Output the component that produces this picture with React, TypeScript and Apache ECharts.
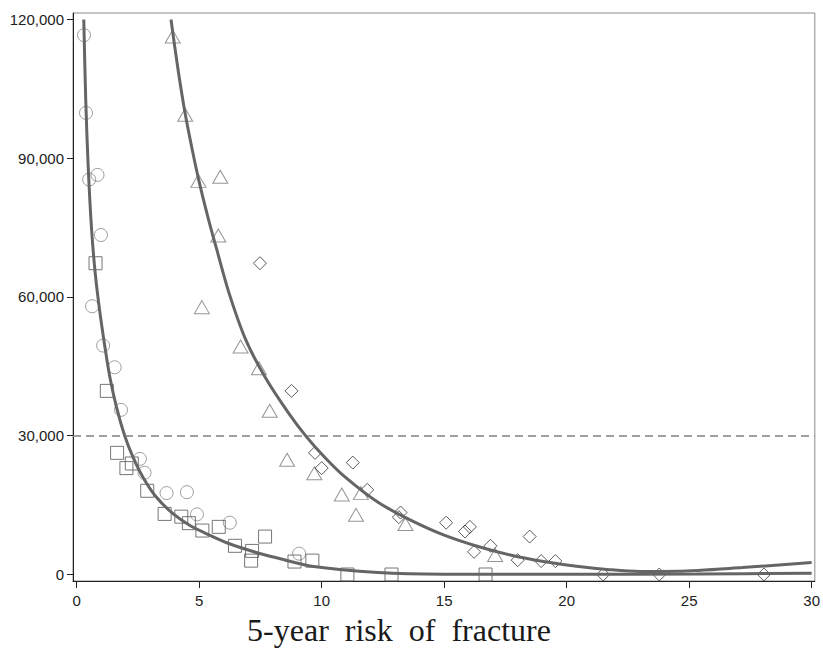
import React, { useEffect, useRef } from "react";
import * as echarts from "echarts";

const xTicks = [0, 5, 10, 15, 20, 25, 30];
const yTicks = [0, 30000, 60000, 90000, 120000];
const xLabel = "5-year\u00a0 risk\u00a0 of\u00a0 fracture";
const threshold = 30000;

const circles = [
  [0.3, 116600], [0.38, 99800], [0.51, 85400], [0.85, 86400], [0.99, 73400],
  [0.63, 58000], [1.08, 49500], [1.55, 44800], [1.81, 35600], [2.58, 25000],
  [2.77, 22000], [3.67, 17600], [4.5, 17800], [4.91, 13000], [6.25, 11200],
  [9.08, 4500],
];

const squares = [
  [0.77, 67300], [1.23, 39700], [1.65, 26300], [2.25, 24000], [2.03, 23000],
  [2.88, 18100], [3.59, 13100], [4.27, 12500], [4.58, 11100], [5.13, 9500],
  [5.8, 10300], [6.46, 6200], [7.16, 5100], [7.12, 3000], [7.69, 8200],
  [8.89, 2800], [9.62, 3000], [11.05, 0], [12.85, 0], [16.69, 0],
];

const triangles = [
  [3.92, 116300], [4.43, 99400], [4.97, 85100], [5.86, 86000], [5.11, 57800],
  [5.78, 73300], [6.69, 49300], [7.44, 44600], [7.88, 35400], [8.59, 24800],
  [9.7, 21900], [10.82, 17300], [11.6, 17600], [11.4, 12900], [13.42, 10900],
  [17.08, 4200],
];

const diamonds = [
  [7.48, 67300], [8.77, 39700], [9.73, 26300], [10.0, 23000], [11.27, 24200],
  [11.86, 18300], [13.22, 13400], [13.15, 12400], [15.08, 11200], [16.05, 10300],
  [15.85, 9300], [16.22, 4900], [16.89, 6200], [18.49, 8200], [18.0, 3100],
  [18.96, 2900], [19.54, 2900], [21.49, 0], [23.78, 0], [28.05, 0],
];

const fitLowX = [
  0.29, 0.37, 0.47, 0.61, 0.76, 0.94, 1.15, 1.35, 1.62, 1.96, 2.29, 2.7,
  3.24, 3.92, 4.59, 5.27, 6.21, 7.43, 8.24, 9.59, 12.3, 15.0, 20.4, 25.3, 30.0,
];
const fitLowY = [
  120000, 102600, 88200, 74500, 65000, 57000, 49300, 42800, 36300, 30000,
  25500, 21100, 16800, 13200, 10700, 8900, 6700, 4600, 3500, 1800, 450, 80, 60,
  120, 260,
];

const fitHighX = [
  3.85, 4.12, 4.43, 4.73, 5.0, 5.38, 5.7, 6.21, 6.89, 7.7, 8.65, 9.39, 10.15,
  10.95, 12.3, 13.65, 15.0, 16.35, 17.7, 19.05, 20.4, 21.75, 23.0, 24.5, 27.16,
  30.0,
];
const fitHighY = [
  120000, 109800, 99600, 91500, 84900, 76800, 70600, 61000, 50900, 42600, 34900,
  29700, 25200, 21100, 15600, 11700, 8500, 6100, 4200, 2800, 1800, 1050, 650,
  700, 1500, 2600,
];

const zip = (xs: number[], ys: number[]) => xs.map((x, i) => [x, ys[i]]);

const tickFont = {
  fontFamily: "Liberation Sans, Arial, sans-serif",
  fontSize: 15,
  color: "#222",
};

export default function App() {
  const ref = useRef<HTMLDivElement>(null);

  useEffect(() => {
    const chart = echarts.init(ref.current!, null, { renderer: "svg" });
    const scatterBase = {
      type: "scatter",
      z: 2,
      symbolSize: 13,
    };
    chart.setOption({
      animation: false,
      backgroundColor: "#fff",
      grid: {
        left: 73,
        top: 13,
        right: 3,
        bottom: 68,
        show: true,
        borderColor: "#8a8a8a",
        borderWidth: 1,
        backgroundColor: "transparent",
      },
      xAxis: {
        type: "value",
        min: -0.15,
        max: 30.13,
        splitLine: { show: false },
        axisLine: { show: true, onZero: false, lineStyle: { color: "#222", width: 1 } },
        axisTick: {
          show: true,
          length: 7,
          customValues: xTicks,
          lineStyle: { color: "#222" },
        },
        axisLabel: {
          ...tickFont,
          customValues: xTicks,
          margin: 12,
          formatter: (v: number) => String(v),
        },
      },
      yAxis: {
        type: "value",
        min: -1405,
        max: 121400,
        splitLine: { show: false },
        axisLine: { show: true, onZero: false, lineStyle: { color: "#222", width: 1 } },
        axisTick: {
          show: true,
          length: 6,
          customValues: yTicks,
          lineStyle: { color: "#222" },
        },
        axisLabel: {
          ...tickFont,
          customValues: yTicks,
          margin: 9,
          formatter: (v: number) => v.toLocaleString("en-US"),
        },
      },
      graphic: [
        {
          type: "text",
          x: 399,
          y: 630,
          style: {
            text: xLabel,
            font: "32px 'Liberation Serif', 'Times New Roman', serif",
            fill: "#1a1a1a",
            textAlign: "center",
            textVerticalAlign: "middle",
          },
        },
      ],
      series: [
        {
          ...scatterBase,
          symbol: "circle",
          data: circles,
          itemStyle: { color: "rgba(0,0,0,0)", borderColor: "#858585", borderWidth: 1 },
          markLine: {
            silent: true,
            symbol: ["none", "none"],
            label: { show: false },
            lineStyle: { color: "#808080", width: 1.5, type: [8, 5] },
            data: [{ yAxis: threshold }],
          },
        },
        {
          ...scatterBase,
          symbol: "rect",
          data: squares,
          itemStyle: { color: "rgba(0,0,0,0)", borderColor: "#555", borderWidth: 1 },
        },
        {
          ...scatterBase,
          symbol: "triangle",
          symbolSize: [15, 13],
          data: triangles,
          itemStyle: { color: "rgba(0,0,0,0)", borderColor: "#7a7a7a", borderWidth: 1 },
        },
        {
          ...scatterBase,
          symbol: "diamond",
          symbolSize: [13, 13],
          data: diamonds,
          itemStyle: { color: "rgba(0,0,0,0)", borderColor: "#333", borderWidth: 1 },
        },
        {
          type: "line",
          z: 3,
          data: zip(fitLowX, fitLowY),
          showSymbol: false,
          smooth: 0.3,
          lineStyle: { color: "#656565", width: 3 },
        },
        {
          type: "line",
          z: 3,
          data: zip(fitHighX, fitHighY),
          showSymbol: false,
          smooth: 0.3,
          lineStyle: { color: "#656565", width: 3 },
        },
      ],
    });
    return () => chart.dispose();
  }, []);

  return (
    <div
      ref={ref}
      style={{ position: "absolute", left: 0, top: 0, width: 823, height: 649 }}
    />
  );
}
